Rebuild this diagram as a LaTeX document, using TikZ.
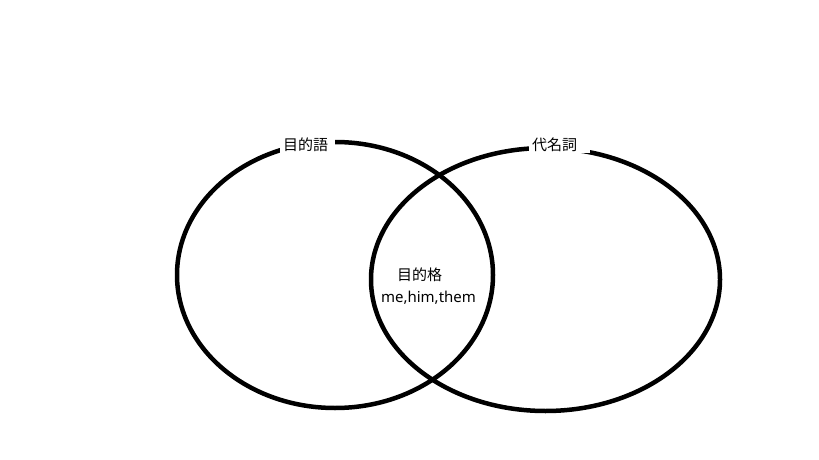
\documentclass[tikz,border=0pt]{standalone}
\usepackage{fontspec}
\setmainfont{Noto Sans}
\newfontfamily\jpfont{Noto Sans CJK JP}
\usetikzlibrary{shapes.geometric,calc}

\begin{document}
\begin{tikzpicture}[
    x=1pt, y=-1pt,
    set/.style={draw, ellipse, line width=4.5pt, inner sep=0pt},
    setlabel/.style={fill=white, inner xsep=3pt, inner ysep=1pt, anchor=west, font={\fontsize{15}{18}\selectfont\jpfont}},
    every node/.style={font={\fontsize{15}{18}\selectfont}}
  ]
  \useasboundingbox[fill=white] (0,0) rectangle (819,460);

  \node[set, minimum width=316pt, minimum height=266pt] (object) at (335,275) {};
  \node[set, minimum width=349pt, minimum height=263pt] (pronoun) at (545.5,279.5) {};

  \node[setlabel] (objectlabel) at ($(object.north)+(-55,5)$) {目的語\hspace*{4pt}};
  \node[setlabel] (pronounlabel) at ($(pronoun.north)+(-16.5,-0.5)$) {代名詞\hspace*{10pt}};

  \node[font={\fontsize{15}{18}\selectfont\jpfont}] (case) at (419.5,275) {目的格};
  \node (words) at (428.5,298) {me,him,them};
\end{tikzpicture}
\end{document}
